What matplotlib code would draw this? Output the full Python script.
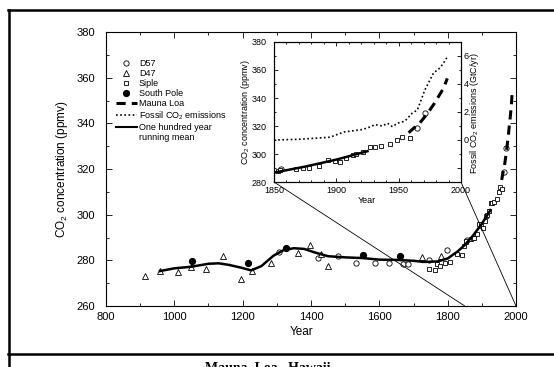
import matplotlib.pyplot as plt
from matplotlib.lines import Line2D
from matplotlib.patches import ConnectionPatch

plt.rcParams["font.family"] = ["Liberation Sans", "DejaVu Sans"]
plt.rcParams["mathtext.fontset"] = "custom"
plt.rcParams["mathtext.rm"] = "Liberation Sans"
plt.rcParams["mathtext.it"] = "Liberation Sans:italic"

# ice core records (year, ppmv)
d57_year = [1305, 1421, 1479, 1532, 1587, 1628, 1669, 1684, 1745, 1798, 1856, 1965, 1971]
d57_ppm = [283.5, 281.0, 281.9, 279.0, 278.8, 279.0, 278.4, 278.4, 280.0, 284.5, 289.1, 318.6, 329.0]

d47_year = [914, 958, 1011, 1050, 1093, 1142, 1195, 1227, 1283, 1362, 1397, 1429, 1450, 1725, 1781]
d47_ppm = [273.1, 275.3, 274.9, 277.0, 276.0, 281.9, 271.8, 275.3, 278.8, 283.2, 286.7, 282.8, 277.5, 281.5, 281.9]

siple_year = [1745, 1763, 1769, 1778, 1792, 1807, 1827, 1842, 1848, 1853, 1855, 1868, 1873, 1878,
              1886, 1893, 1899, 1903, 1908, 1913, 1916, 1921, 1927, 1931, 1936, 1943, 1949, 1953, 1959]
siple_ppm = [276.2, 275.8, 278.4, 277.5, 278.8, 279.2, 282.8, 282.3, 286.3, 287.9, 288.6, 289.3, 290.0, 290.0,
             291.4, 295.7, 295.0, 294.3, 297.1, 299.3, 300.0, 301.4, 305.0, 305.0, 305.7, 307.0, 310.0, 312.0, 311.4]

south_pole_year = [1052, 1215, 1327, 1553, 1661]
south_pole_ppm = [279.7, 278.8, 285.4, 282.3, 282.0]

mauna_loa_year = [1958, 1962, 1966, 1970, 1974, 1978, 1982, 1986, 1989]
mauna_loa_ppm = [315.2, 318.4, 321.1, 325.5, 330.1, 335.3, 341.1, 347.0, 354.0]

fossil_year = [1850, 1870, 1895, 1906, 1921, 1927, 1931, 1937, 1941, 1945, 1949, 1955,
               1961, 1965, 1971, 1978, 1983, 1986, 1989]
fossil_gtc = [0.0, 0.05, 0.2, 0.57, 0.75, 0.93, 1.1, 1.0, 1.2, 0.95, 1.2, 1.35,
              1.93, 2.14, 3.57, 4.79, 5.14, 5.5, 5.93]

mean_year = [958, 1000, 1050, 1100, 1130, 1160, 1195, 1225, 1255, 1290, 1320, 1350, 1380, 1410,
             1450, 1500, 1550, 1600, 1650, 1700, 1730, 1770, 1800, 1830, 1850, 1875, 1900, 1925]
mean_ppm = [275.3, 276.5, 277.2, 278.5, 278.7, 278.0, 276.8, 275.6, 277.5, 282.0, 284.5, 285.3, 285.0, 283.5,
            281.8, 281.3, 281.0, 280.3, 280.2, 279.8, 279.3, 279.5, 280.8, 284.0, 286.7, 291.0, 296.0, 302.0]

W, H = 554, 367
fig = plt.figure(figsize=(W / 100, H / 100), dpi=100)


def px_box(x0, y0, x1, y1):
    return [x0 / W, (H - y1) / H, (x1 - x0) / W, (y1 - y0) / H]


open_kw = dict(linestyle="none", mfc="white", mec="black", mew=0.6)


def draw_records(a):
    a.plot(d57_year, d57_ppm, marker="o", ms=3.8, **open_kw)
    a.plot(d47_year, d47_ppm, marker="^", ms=3.8, **open_kw)
    a.plot(siple_year, siple_ppm, marker="s", ms=3.4, **open_kw)
    a.plot(south_pole_year, south_pole_ppm, "o", ms=4.2, color="black")
    a.plot(mean_year, mean_ppm, "-", color="black", lw=1.8)
    a.plot(mauna_loa_year, mauna_loa_ppm, color="black", lw=2.2, dashes=(3, 2))


# main panel
ax = fig.add_axes(px_box(106, 32, 516, 306))
draw_records(ax)
ax.set_xlim(800, 2000)
ax.set_ylim(260, 380)
ax.set_xticks(range(800, 2001, 200))
ax.set_xticks(range(800, 2001, 100), minor=True)
ax.set_yticks(range(260, 381, 20))
ax.set_yticks(range(260, 381, 10), minor=True)
ax.tick_params(which="both", direction="in", top=True, right=True, width=0.6)
ax.tick_params(which="major", length=4, labelsize=8)
ax.tick_params(which="minor", length=2)
ax.tick_params(axis="y", pad=8)
ax.tick_params(axis="x", pad=4)
for s in ax.spines.values():
    s.set_linewidth(0.8)
ax.set_xlabel("Year", fontsize=8.5)
ax.xaxis.set_label_coords(0.476, -0.072)
ax.set_ylabel("CO$_2$ concentration (ppmv)", fontsize=8.5)
ax.yaxis.set_label_coords(-0.088, 0.5)

handles = [
    Line2D([], [], marker="o", ms=3.8, **open_kw),
    Line2D([], [], marker="^", ms=3.8, **open_kw),
    Line2D([], [], marker="s", ms=3.4, **open_kw),
    Line2D([], [], marker="o", ms=4.2, linestyle="none", color="black"),
    Line2D([], [], color="black", lw=2.2, dashes=(3, 2)),
    Line2D([], [], color="black", lw=1.2, linestyle=(0, (1, 1.5))),
    Line2D([], [], color="black", lw=1.5),
    Line2D([], [], linestyle="none"),
]
labels = ["D57", "D47", "Siple", "South Pole", "Mauna Loa",
          "Fossil CO$_2$ emissions", "One hundred year", "running mean"]
ax.legend(handles, labels, loc="upper left", bbox_to_anchor=(116 / W, 1 - 59 / H),
          bbox_transform=fig.transFigure, frameon=False, fontsize=6.5,
          handlelength=2.3, handletextpad=0.25, labelspacing=0.12, borderpad=0, borderaxespad=0)

# inset 1850-2000
axin = fig.add_axes(px_box(274, 42, 461, 182))
axin.set_zorder(3)
draw_records(axin)
axin.set_xlim(1850, 2000)
axin.set_ylim(280, 380)
axin.set_xticks([1850, 1900, 1950, 2000])
axin.set_xticks(range(1850, 2001, 10), minor=True)
axin.set_yticks(range(280, 381, 20))
axin.set_yticks(range(280, 381, 10), minor=True)
axin.tick_params(which="both", direction="in", top=True, width=0.6)
axin.tick_params(which="major", length=3, labelsize=6.5)
axin.tick_params(which="minor", length=1.5)
axin.tick_params(axis="y", pad=5)
axin.tick_params(axis="x", pad=3)
axin.set_xlabel("Year", fontsize=6.5)
axin.xaxis.set_label_coords(0.497, -0.1)
axin.set_ylabel("CO$_2$ concentration (ppmv)", fontsize=6.5)
axin.yaxis.set_label_coords(-0.118, 0.5)

axr = axin.twinx()
axr.set_zorder(4)
axr.plot(fossil_year, fossil_gtc, color="black", lw=1.2, linestyle=(0, (1, 1.5)))
axr.set_ylim(-3, 7)
axr.set_yticks([-2, 0, 2, 4, 6])
axr.set_yticklabels(["", "0", "2", "4", "6"])
axr.set_yticks(range(-3, 8), minor=True)
axr.tick_params(which="both", direction="in", width=0.6, labelsize=6.5, pad=2)
axr.tick_params(which="major", length=3)
axr.tick_params(which="minor", length=1.5)
axr.set_ylabel("Fossil CO$_2$ emissions (GtC/yr)", fontsize=6.5)
axr.yaxis.set_label_coords(1.037, 0.49)
for a in (axin, axr):
    for s in a.spines.values():
        s.set_linewidth(0.8)

# lines tying the inset to its span on the main axis
for yr in (1850, 2000):
    con = ConnectionPatch(xyA=(yr, 280), coordsA=axin.transData,
                          xyB=(yr, 260), coordsB=ax.transData, color="black", lw=0.6)
    fig.add_artist(con)

# page frame from the scan
fig.add_artist(Line2D([8 / W, 1], [1 - 10 / H] * 2, transform=fig.transFigure, color="black", lw=1.8))
fig.add_artist(Line2D([8 / W, 1], [1 - 353.5 / H] * 2, transform=fig.transFigure, color="black", lw=1.8))
fig.add_artist(Line2D([8.5 / W] * 2, [0, 1 - 10 / H], transform=fig.transFigure, color="black", lw=1.8))

# caption of the next panel, cut by the page edge as in the scan
fig.text(268 / W, (H - 372) / H, "Mauna  Loa,  Hawaii", family=["Liberation Serif", "DejaVu Serif"],
         fontsize=10, fontweight="bold", ha="center", va="baseline")

fig.savefig("out.png", dpi=100)
